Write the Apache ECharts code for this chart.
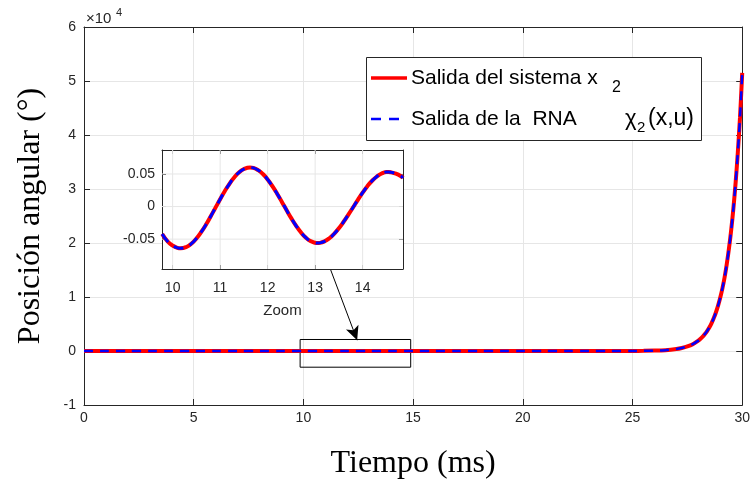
<!DOCTYPE html>
<html>
<head>
<meta charset="utf-8">
<script src="https://cdn.jsdelivr.net/npm/echarts@6/dist/echarts.min.js"></script>
<style>html,body{margin:0;padding:0;background:#fff;}#c{width:753px;height:485px;}</style>
</head>
<body>
<div id="c"></div>
<script>
// ---- data ----
const mainTime = [0, 1, 2, 3, 4, 5, 6, 7, 8, 9, 10, 11, 12, 13, 14, 15, 16, 17, 18, 19, 20, 21, 22, 23, 24, 25, 25.5, 26, 26.5, 27, 27.25, 27.5, 27.75, 28, 28.1, 28.2, 28.3, 28.4, 28.5, 28.6, 28.7, 28.8, 28.9, 29, 29.1, 29.2, 29.3, 29.4, 29.5, 29.6, 29.7, 29.8, 29.9, 30];
const systemAngle = [0, 0.02, -0.03, 0.04, -0.04, 0.05, -0.05, 0.05, -0.06, 0.06, -0.06, 0.06, 0.04, -0.05, 0.05, -0.05, 0.06, -0.06, 0.1, 0.2, 0.3, 0.5, 1, 1.5, 3, 15, 30, 70, 160, 370, 560, 840, 1270, 1920, 2260, 2660, 3140, 3700, 4360, 5130, 6050, 7130, 8400, 9900, 11650, 13700, 16200, 19100, 22500, 26500, 31200, 36800, 43300, 51500];
const rnaAngle = [0, 0.02, -0.03, 0.04, -0.04, 0.05, -0.05, 0.05, -0.06, 0.06, -0.06, 0.06, 0.04, -0.05, 0.05, -0.05, 0.06, -0.06, 0.1, 0.2, 0.3, 0.5, 1, 1.5, 3, 15, 30, 70, 160, 370, 560, 840, 1270, 1920, 2260, 2660, 3140, 3700, 4360, 5130, 6050, 7130, 8400, 9900, 11650, 13700, 16200, 19100, 22500, 26500, 31200, 36800, 43300, 51500];

const zoomTime = [9.78, 9.9, 10.0, 10.1, 10.17, 10.3, 10.4, 10.5, 10.6, 10.7, 10.8, 10.9, 11.0, 11.1, 11.2, 11.3, 11.4, 11.5, 11.63, 11.7, 11.8, 11.9, 12.0, 12.1, 12.2, 12.3, 12.4, 12.5, 12.6, 12.7, 12.8, 12.9, 13.0, 13.05, 13.1, 13.2, 13.3, 13.4, 13.5, 13.6, 13.7, 13.8, 13.9, 14.0, 14.1, 14.2, 14.3, 14.4, 14.5, 14.54, 14.6, 14.7, 14.8, 14.85];
const zoomSystem = [-0.042, -0.054, -0.0599, -0.0633, -0.064, -0.0616, -0.0566, -0.049, -0.0393, -0.0279, -0.0152, -0.002, 0.0112, 0.0239, 0.0353, 0.045, 0.0526, 0.0576, 0.060, 0.0593, 0.0559, 0.050, 0.0416, 0.0313, 0.0197, 0.0071, -0.0057, -0.0181, -0.0295, -0.0395, -0.0474, -0.0529, -0.0556, -0.056, -0.0557, -0.0533, -0.0486, -0.0418, -0.0333, -0.0233, -0.0123, -0.001, 0.0104, 0.0213, 0.0313, 0.0396, 0.0461, 0.0507, 0.0529, 0.053, 0.0525, 0.0505, 0.047, 0.044];
const zoomRNA = [-0.042, -0.054, -0.0599, -0.0633, -0.064, -0.0616, -0.0566, -0.049, -0.0393, -0.0279, -0.0152, -0.002, 0.0112, 0.0239, 0.0353, 0.045, 0.0526, 0.0576, 0.060, 0.0593, 0.0559, 0.050, 0.0416, 0.0313, 0.0197, 0.0071, -0.0057, -0.0181, -0.0295, -0.0395, -0.0474, -0.0529, -0.0556, -0.056, -0.0557, -0.0533, -0.0486, -0.0418, -0.0333, -0.0233, -0.0123, -0.001, 0.0104, 0.0213, 0.0313, 0.0396, 0.0461, 0.0507, 0.0529, 0.053, 0.0525, 0.0505, 0.047, 0.044];

const mainYTickLabels = ['-1', '0', '1', '2', '3', '4', '5', '6'];
const zoomYTicks = [-0.05, 0, 0.05];
const zoomXTicks = [10, 11, 12, 13, 14];

const legendNames = ['Salida del sistema x', 'Salida de la  RNA'];
const zoomBox = [[9.85, 2130], [14.89, -3000]];
const arrowPts = [[11.24, 15050], [12.45, 2000]];

// ---- build ----
const zip = (a, b) => a.map((v, i) => [v, b[i]]);
const axisCol = '#262626';
const gridCol = '#e6e6e6';
const sans = 'Liberation Sans';
const serif = 'Liberation Serif';
const zX = {min: 9.776, max: 14.85};
const zY = {min: -0.0958, max: 0.0868};

const chart = echarts.init(document.getElementById('c'), null, {renderer: 'canvas'});

const mainXBase = {
  type: 'value', gridIndex: 0, min: 0, max: 30, interval: 5,
  axisLine: {show: true, onZero: false, lineStyle: {color: axisCol, width: 1}},
  axisTick: {show: true, inside: true, length: 6, lineStyle: {color: axisCol}},
};
const mainYBase = {
  type: 'value', gridIndex: 0, min: -10000, max: 60000, interval: 10000,
  axisLine: {show: true, onZero: false, lineStyle: {color: axisCol, width: 1}},
  axisTick: {show: true, inside: true, length: 6, lineStyle: {color: axisCol}},
};
const zTick = {show: true, inside: true, length: 4, lineStyle: {color: axisCol}};

// inset grid lines: one tiny line series per tick value, drawn through the inset axes
const zoomGridSeries = zoomXTicks.map(t => [[t, zY.min], [t, zY.max]])
  .concat(zoomYTicks.map(t => [[zX.min, t], [zX.max, t]]))
  .map((pts, i) => ({
    name: 'zoomGrid' + i, type: 'line', xAxisIndex: 2, yAxisIndex: 2, z: 7, silent: true,
    data: pts, showSymbol: false, symbol: 'none', lineStyle: {color: gridCol, width: 1}
  }));

const option = {
  backgroundColor: '#fff',
  animation: false,
  grid: [
    {left: 84, right: 8, top: 27, bottom: 77, show: false},
    {left: 162, top: 150, width: 241, height: 119, show: true, backgroundColor: '#fff', borderWidth: 0, z: 1}
  ],
  xAxis: [
    Object.assign({}, mainXBase, {
      position: 'bottom',
      axisLabel: {color: axisCol, fontSize: 14, fontFamily: sans, margin: 6},
      splitLine: {show: true, lineStyle: {color: gridCol, width: 1}},
      name: 'Tiempo (ms)', nameLocation: 'middle', nameGap: 43,
      nameTextStyle: {fontFamily: serif, fontSize: 32, color: '#000'}
    }),
    Object.assign({}, mainXBase, {position: 'top', axisLabel: {show: false}, splitLine: {show: false}}),
    {
      type: 'value', gridIndex: 1, min: zX.min, max: zX.max, z: 6, position: 'bottom',
      axisLine: {show: true, onZero: false, lineStyle: {color: axisCol}},
      axisTick: Object.assign({customValues: zoomXTicks}, zTick),
      axisLabel: {color: axisCol, fontSize: 14, fontFamily: sans, margin: 12, customValues: zoomXTicks},
      splitLine: {show: false},
      name: 'Zoom', nameLocation: 'middle', nameGap: 34,
      nameTextStyle: {fontFamily: sans, fontSize: 15, color: axisCol}
    },
    {
      type: 'value', gridIndex: 1, min: zX.min, max: zX.max, z: 6, position: 'top',
      axisLine: {show: true, onZero: false, lineStyle: {color: axisCol}},
      axisTick: Object.assign({customValues: zoomXTicks}, zTick),
      axisLabel: {show: false}, splitLine: {show: false}
    }
  ],
  yAxis: [
    Object.assign({}, mainYBase, {
      position: 'left',
      axisLabel: {color: axisCol, fontSize: 14, fontFamily: sans, margin: 8,
        formatter: v => mainYTickLabels[Math.round(v / 10000) + 1]},
      splitLine: {show: true, lineStyle: {color: gridCol, width: 1}},
      name: 'Posición angular (°)', nameLocation: 'middle', nameGap: 37,
      nameTextStyle: {fontFamily: serif, fontSize: 32, color: '#000'}
    }),
    Object.assign({}, mainYBase, {position: 'right', axisLabel: {show: false}, splitLine: {show: false}}),
    {
      type: 'value', gridIndex: 1, min: zY.min, max: zY.max, z: 6, position: 'left',
      axisLine: {show: true, onZero: false, lineStyle: {color: axisCol}},
      axisTick: Object.assign({customValues: zoomYTicks}, zTick),
      axisLabel: {color: axisCol, fontSize: 14, fontFamily: sans, margin: 7, customValues: zoomYTicks,
        formatter: v => (Math.abs(v) < 1e-9 ? '0' : String(v))},
      splitLine: {show: false}
    },
    {
      type: 'value', gridIndex: 1, min: zY.min, max: zY.max, z: 6, position: 'right',
      axisLine: {show: true, onZero: false, lineStyle: {color: axisCol}},
      axisTick: Object.assign({customValues: zoomYTicks}, zTick),
      axisLabel: {show: false}, splitLine: {show: false}
    }
  ],
  series: [
    {
      name: legendNames[0], type: 'line', xAxisIndex: 0, yAxisIndex: 0, z: 2,
      data: zip(mainTime, systemAngle), showSymbol: false, symbol: 'none', smooth: 0.3,
      lineStyle: {color: '#ff0000', width: 4}
    },
    {
      name: legendNames[1], type: 'line', xAxisIndex: 0, yAxisIndex: 0, z: 3,
      data: zip(mainTime, rnaAngle), showSymbol: false, symbol: 'none', smooth: 0.3,
      lineStyle: {color: '#0000ff', width: 2.5, type: [9, 7]},
      markArea: {silent: true, itemStyle: {color: 'rgba(0,0,0,0)', borderColor: '#000', borderWidth: 1},
        data: [[{coord: zoomBox[0]}, {coord: zoomBox[1]}]]},
      markLine: {silent: true, symbol: ['none', 'arrow'], symbolSize: [10, 14], label: {show: false},
        lineStyle: {color: '#000', width: 1, type: 'solid'},
        data: [[{coord: arrowPts[0]}, {coord: arrowPts[1]}]]}
    }
  ].concat(zoomGridSeries).concat([
    {
      name: 'zoomSystem', type: 'line', xAxisIndex: 2, yAxisIndex: 2, z: 8,
      data: zip(zoomTime, zoomSystem), showSymbol: false, symbol: 'none', smooth: true,
      lineStyle: {color: '#ff0000', width: 4}
    },
    {
      name: 'zoomRNA', type: 'line', xAxisIndex: 2, yAxisIndex: 2, z: 9,
      data: zip(zoomTime, zoomRNA), showSymbol: false, symbol: 'none', smooth: true,
      lineStyle: {color: '#0000ff', width: 3, type: [10, 7]}
    }
  ]),
  graphic: [
    {type: 'text', x: 86, y: 18.5, z: 10, style: {text: '×10', fontSize: 15, fontFamily: sans, fill: axisCol, verticalAlign: 'middle'}},
    {type: 'text', x: 116, y: 13, z: 10, style: {text: '4', fontSize: 11, fontFamily: sans, fill: axisCol, verticalAlign: 'middle'}},
    {type: 'rect', z: 20, shape: {x: 366.5, y: 57.5, width: 335, height: 83},
      style: {fill: '#fff', stroke: axisCol, lineWidth: 1}},
    {type: 'line', z: 21, shape: {x1: 371, y1: 78, x2: 407, y2: 78}, style: {stroke: '#ff0000', lineWidth: 3.5}},
    {type: 'line', z: 21, shape: {x1: 371, y1: 119, x2: 401, y2: 119}, style: {stroke: '#0000ff', lineWidth: 2.5, lineDash: [10, 8]}},
    {type: 'text', z: 21, x: 411, y: 78, style: {text: legendNames[0], fontSize: 21, fontFamily: sans, fill: '#000', verticalAlign: 'middle'}},
    {type: 'text', z: 21, x: 612, y: 88, style: {text: '2', fontSize: 16, fontFamily: sans, fill: '#000', verticalAlign: 'middle'}},
    {type: 'text', z: 21, x: 411, y: 119, style: {text: legendNames[1], fontSize: 21, fontFamily: sans, fill: '#000', verticalAlign: 'middle'}},
    {type: 'text', z: 21, x: 625, y: 119, style: {text: 'χ', fontSize: 22, fontFamily: sans, fill: '#000', verticalAlign: 'middle'}},
    {type: 'text', z: 21, x: 637, y: 127.5, style: {text: '2', fontSize: 15, fontFamily: sans, fill: '#000', verticalAlign: 'middle'}},
    {type: 'text', z: 21, x: 648, y: 119, style: {text: '(x,u)', fontSize: 23, fontFamily: sans, fill: '#000', verticalAlign: 'middle'}}
  ]
};
chart.setOption(option);
</script>
</body>
</html>
